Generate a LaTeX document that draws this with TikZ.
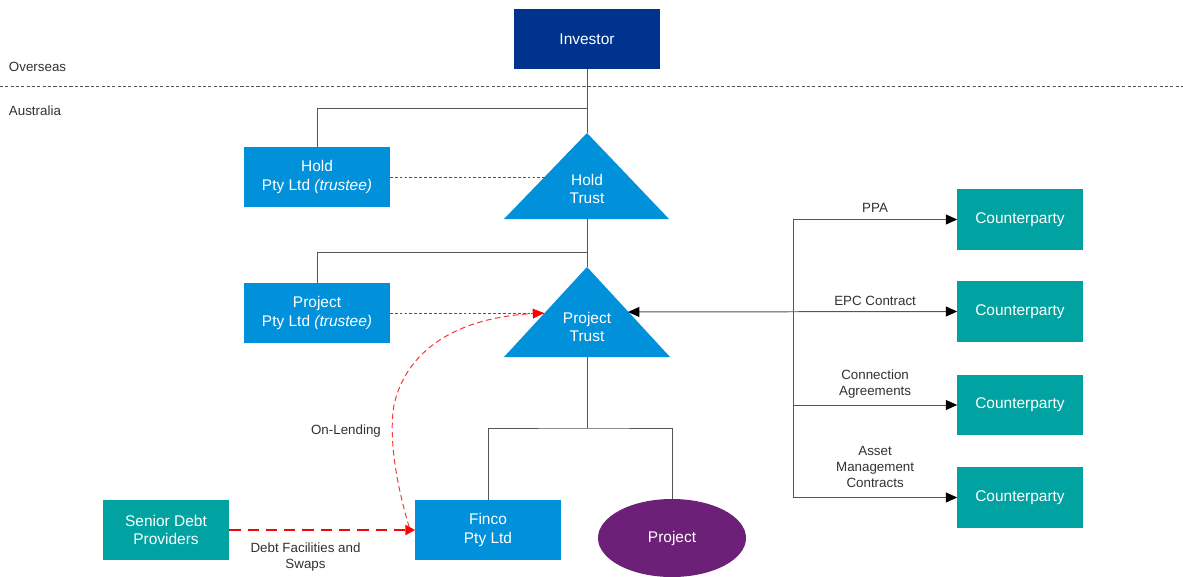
\documentclass[tikz,border=0pt]{standalone}
\usepackage{fontspec}
\setmainfont{Liberation Sans}
\usetikzlibrary{arrows.meta, shapes.geometric, positioning, calc}
\definecolor{DeepBlue}{RGB}{0,51,141}
\definecolor{MidBlue}{RGB}{0,145,218}
\definecolor{Teal}{RGB}{0,163,161}
\definecolor{Plum}{RGB}{109,32,119}
\definecolor{LineGrey}{RGB}{85,85,85}
\definecolor{TextGrey}{RGB}{50,50,50}

\begin{document}
\begin{tikzpicture}[x=0.025cm,y=-0.025cm,
    entity/.style={rectangle,fill=MidBlue,text=white,align=center,
                   font=\fontsize{11}{13}\selectfont,
                   minimum width=3.625cm,minimum height=1.5cm,inner sep=0pt},
    party/.style={entity,fill=Teal,minimum width=3.125cm},
    trust/.style={fill=MidBlue},
    trusttext/.style={text=white,align=center,font=\fontsize{11}{13}\selectfont},
    lbl/.style={text=TextGrey,align=center,font=\fontsize{9.5}{11.4}\selectfont},
    link/.style={draw=LineGrey,line width=0.7pt},
    tie/.style={draw=LineGrey,line width=0.6pt,dash pattern=on 2pt off 1.5pt},
    border/.style={draw=LineGrey,line width=0.5pt,dash pattern=on 2.2pt off 1.6pt},
    tip/.style={Triangle[length=8pt,width=7pt,fill=black,color=black]},
    flow/.style={link,-{Triangle[length=8pt,width=7pt,fill=black,color=black]}},
    debt/.style={draw=red,line width=1.8pt,dash pattern=on 8pt off 5pt,
                 -{Triangle[length=7pt,width=7pt]}},
    lend/.style={draw=red!80!white,line width=0.7pt,dash pattern=on 4pt off 2.5pt,
                 -{Triangle[length=8pt,width=7pt,fill=red,color=red]}}
  ]
  \useasboundingbox[fill=white] (0,0) rectangle (1183,577);

  % Overseas / Australia split
  \node[lbl,anchor=west] (os) at (4,67) {Overseas};
  \node[lbl,anchor=west] (au) at (4,111) {Australia};
  \coordinate (bl) at (0,86);
  \coordinate (br) at (1183,86);
  \draw[border] (bl) -- (br);

  % Entities
  \node[entity,fill=DeepBlue] (inv) at (587,39) {Investor};
  \node[entity] (holdco) at (317,177) {Hold\\Pty Ltd \textit{(trustee)}};
  \node[entity] (projco) at (317,313) {Project\\Pty Ltd \textit{(trustee)}};
  \node[entity] (fin) at (488,530) {Finco\\Pty Ltd};
  \node[ellipse,fill=Plum,text=white,font=\fontsize{11}{13}\selectfont,
        minimum width=3.7cm,minimum height=1.95cm,inner sep=0pt] (proj) at (672,538) {Project};
  \node[party,minimum width=3.15cm] (sdp) at (166,530) {Senior Debt\\Providers};

  % Trusts
  \fill[trust] (587,133) coordinate (htTop) -- (669,219) -- (504,219) -- cycle;
  \coordinate (htBot) at (587,219);
  \coordinate (htL) at (545,177);
  \node[trusttext] (ht) at (587,189) {Hold\\Trust};

  \fill[trust] (587,267) coordinate (ptTop) -- (670,357) -- (504,357) -- cycle;
  \coordinate (ptBot) at (587,357);
  \coordinate (ptL) at (544,313);
  \coordinate (ptR) at (628,312);
  \node[trusttext] (pt) at (587,327) {Project\\Trust};

  % Ownership lines
  \coordinate (j1) at (587,108);
  \coordinate (j2) at (587,252);
  \coordinate (j3) at (587,428);
  \draw[link] (inv.south) -- (htTop);
  \draw[link] (j1) -| (holdco.north);
  \draw[link] (htBot) -- (ptTop);
  \draw[link] (j2) -| (projco.north);
  \draw[link] (ptBot) -- (j3);
  \draw[link] (fin.north) |- (j3) -| (proj.north);
  \draw[tie] (holdco.east) -- (htL);
  \draw[tie] (projco.east) -- (ptL);

  % Debt
  \draw[debt] (sdp.east) -- (fin.west)
    node[lbl,pos=0.41,below=5pt] {Debt Facilities and\\Swaps};
  \draw[lend] ($(fin.west)+(-6,-3)$) .. controls (398,490) and (388,440) .. (394,405)
    .. controls (405,355) and (450,318) .. (ptL);
  \node[lbl] (onl) at (346,431) {On-Lending};

  % Counterparties
  \node[party] (cp1) at (1020,219.5) {Counterparty};
  \node[party] (cp2) at (1020,311.5) {Counterparty};
  \node[party] (cp3) at (1020,405) {Counterparty};
  \node[party] (cp4) at (1020,497.5) {Counterparty};
  \coordinate (sp) at (793,312);
  \draw[link] (sp |- cp1.west) -- (sp |- cp4.west);
  \draw[link,{Triangle[length=8pt,width=7pt,fill=black,color=black]}-{Triangle[length=8pt,width=7pt,fill=black,color=black]}] (ptR) -- (cp2.west);
  \path (sp) -- (cp2.west) node[lbl,midway,above=1pt] {EPC Contract};
  \draw[flow] (sp |- cp1.west) -- (cp1.west) node[lbl,midway,above=1pt] {PPA};
  \draw[flow] (sp |- cp3.west) -- (cp3.west) node[lbl,midway,above=1pt] {Connection\\Agreements};
  \draw[flow] (sp |- cp4.west) -- (cp4.west) node[lbl,midway,above=3pt] {Asset\\Management\\Contracts};
\end{tikzpicture}
\end{document}
